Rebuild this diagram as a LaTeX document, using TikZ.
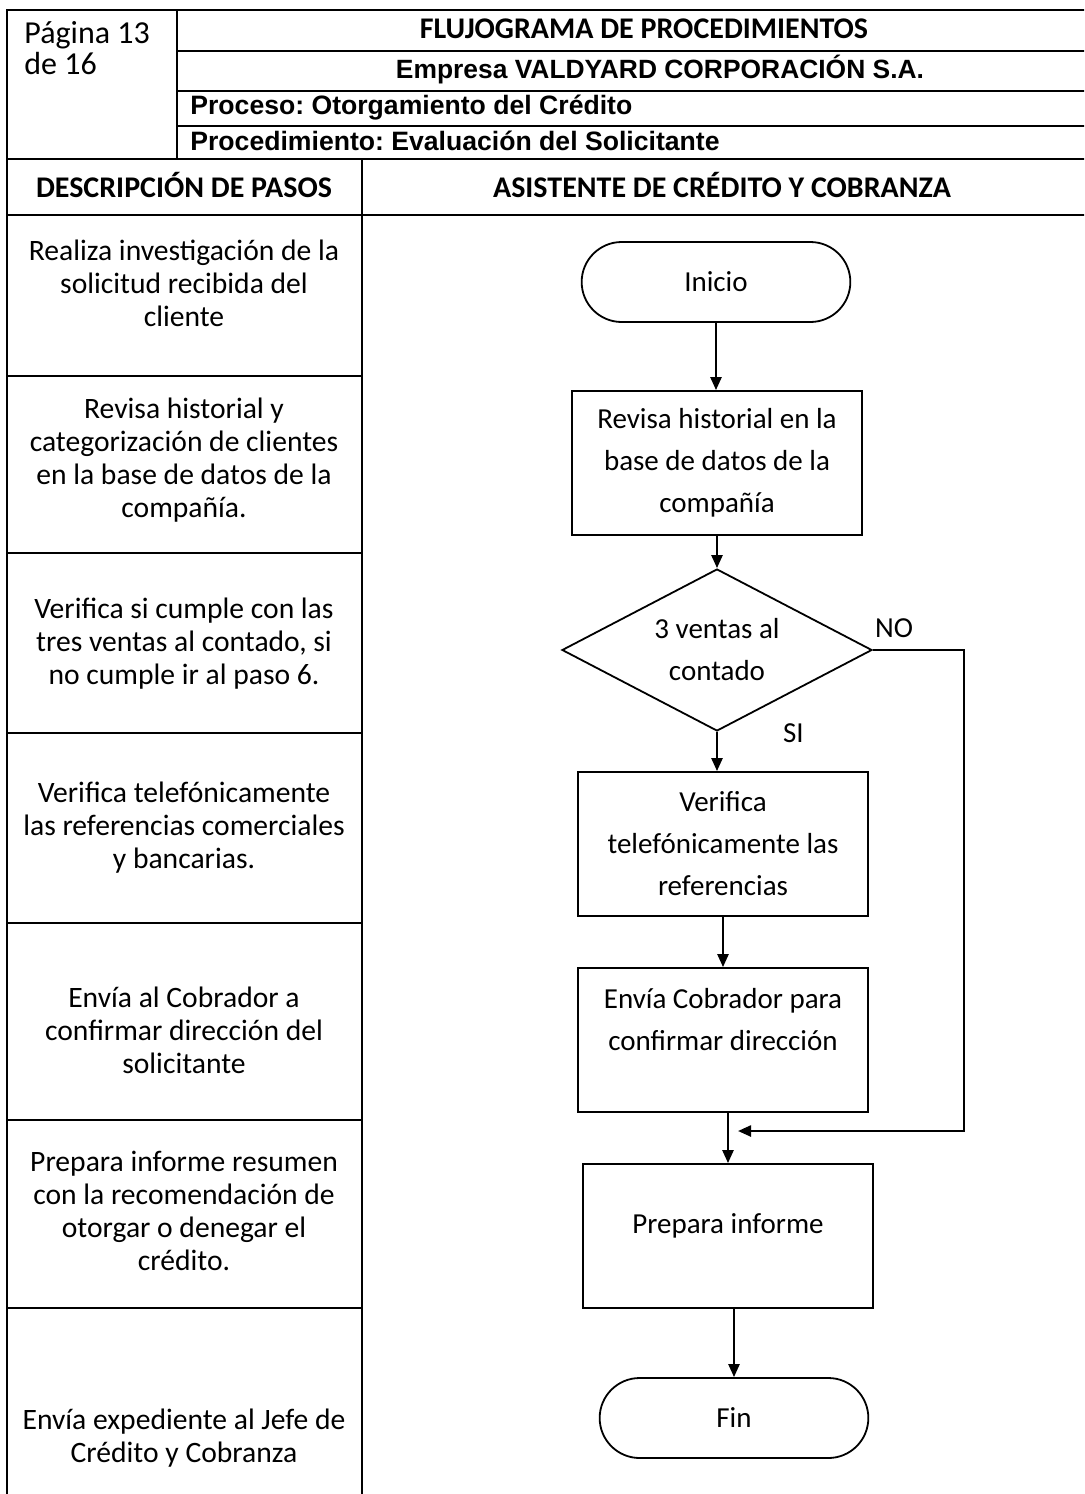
\documentclass[tikz,border=0pt]{standalone}
\usepackage{fontspec}
\setmainfont{Carlito}
\newfontfamily\arialfont{Liberation Sans}
\usetikzlibrary{shapes.geometric,shapes.misc,arrows.meta}
\frenchspacing

\tikzset{
  grid/.style={line width=1.3pt},
  hdr/.style={text height=10pt, text depth=2.5pt, inner sep=0pt},
  txt/.style={font=\fontsize{14.5}{21}\selectfont},
  desc/.style={align=center, font=\fontsize{14.8}{16.5}\selectfont},
  stepbox/.style={draw, line width=0.9pt, minimum width=145pt, minimum height=72pt, align=center, txt},
  termbox/.style={draw, rounded rectangle, line width=0.9pt, minimum width=141pt, minimum height=40pt, txt},
  decbox/.style={draw, diamond, aspect=1.9, inner sep=0pt, line width=0.9pt, minimum width=155pt, minimum height=81pt, align=center, txt},
  flow/.style={-{Triangle[length=6.5pt,width=5.5pt]}, line width=1.2pt},
}

\begin{document}
\begin{tikzpicture}[x=0.5pt,y=-0.5pt]
\useasboundingbox (0,0) rectangle (1084,1494);
\clip (0,0) rectangle (1084,1494);

% table lines
\draw[grid] (7,1500) -- (7,10) -- (1090,10);
\draw[grid] (177,10) -- (177,159) (362,159) -- (362,1500);
\foreach \y in {51,91,126} \draw[grid] (177,\y) -- (1090,\y);
\foreach \y in {159,215} \draw[grid] (7,\y) -- (1090,\y);
\foreach \y in {376,553,733,923,1120,1308} \draw[grid] (7,\y) -- (362,\y);

% header
\node[anchor=north west, align=left, inner sep=0pt, font=\fontsize{16}{15.5}\selectfont] (pag) at (24,21) {Página 13\\de 16};
\node[hdr, font=\bfseries\fontsize{15}{16}\selectfont] (title) at (644,31) {FLUJOGRAMA DE PROCEDIMIENTOS};
\node[hdr, font=\arialfont\bfseries\fontsize{13.2}{15}\selectfont] (emp) at (660,71) {Empresa VALDYARD CORPORACIÓN S.A.};
\node[hdr, anchor=west, font=\arialfont\bfseries\fontsize{13.3}{15}\selectfont] (proc) at (190,107) {Proceso: Otorgamiento del Crédito};
\node[hdr, anchor=west, font=\arialfont\bfseries\fontsize{13.3}{15}\selectfont] (procd) at (190,143) {Procedimiento: Evaluación del Solicitante};
\node[hdr, font=\bfseries\fontsize{15}{16}\selectfont] (colA) at (184,190) {DESCRIPCIÓN DE PASOS};
\node[hdr, font=\bfseries\fontsize{15}{16}\selectfont] (colB) at (722,190) {ASISTENTE DE CRÉDITO Y COBRANZA};

% step descriptions
\node[desc] (d1) at (184,283) {Realiza investigación de la\\solicitud recibida del\\cliente};
\node[desc] (d2) at (184,460) {Revisa historial y\\categorización de clientes\\en la base de datos de la\\compañía.};
\node[desc] (d3) at (184,644) {Verifica si cumple con las\\tres ventas al contado, si\\no cumple ir al paso 6.};
\node[desc] (d4) at (184,828) {Verifica telefónicamente\\las referencias comerciales\\y bancarias.};
\node[desc] (d5) at (184,1030) {Envía al Cobrador a\\confirmar dirección del\\solicitante};
\node[desc] (d6) at (184,1211) {Prepara informe resumen\\con la recomendación de\\otorgar o denegar el\\crédito.};
\node[desc] (d7) at (184,1438) {Envía expediente al Jefe de\\Crédito y Cobranza};

% flowchart
\node[termbox] (inicio) at (716,282) {Inicio};
\node[stepbox] (hist) at (717,463) {Revisa historial en la\\base de datos de la\\compañía};
\node[decbox] (dec) at (717,650) {3 ventas al\\contado};
\node[stepbox] (tel) at (723,844) {Verifica\\telefónicamente las\\referencias};
\node[stepbox] (cobr) at (723,1040) {Envía Cobrador para\\confirmar dirección\\~};
\node[stepbox, label={[txt, yshift=5pt]center:Prepara informe}] (inf) at (728,1236) {};
\node[termbox] (fin) at (734,1418) {Fin};

\node[anchor=base west, txt] (no) at (868,637) {NO};
\node[anchor=base west, txt] (si) at (776,742) {SI};

\coordinate (corner) at (964,1131);
\coordinate (join) at (738,1131);

\draw[flow] (inicio.south) -- (inicio.south |- hist.north);
\draw[flow] (hist.south) -- (dec.north);
\draw[flow] (dec.south) -- (dec.south |- tel.north);
\draw[flow] (tel.south) -- (cobr.north);
\draw[flow] (cobr.south -| inf.north) -- (inf.north);
\draw[flow] (inf.south -| fin.north) -- (fin.north);
\draw[flow] (dec.east) -| (corner) -- (join);
\end{tikzpicture}
\end{document}
